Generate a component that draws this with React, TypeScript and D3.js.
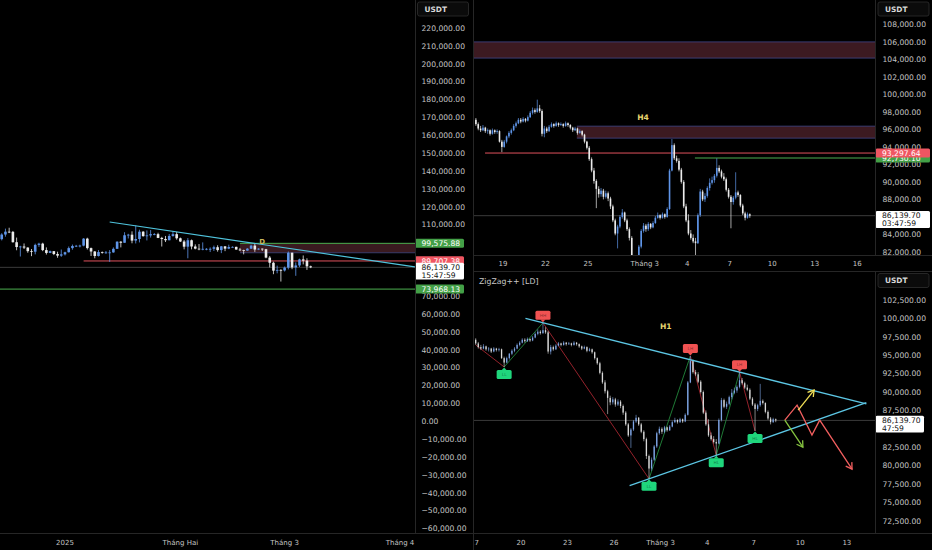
import { useEffect, useRef } from 'react'
import * as d3 from 'd3'

type OHLC = [number, number, number, number]

const W = 932
const H = 550
const DAY = 86400000
const H4 = 4 * 3600000

// Daily BTC/USDT bars [open, high, low, close], first bar 2024-12-14
const dailyFirst = Date.UTC(2024, 11, 14)
const dailyBars: OHLC[] = [
  [101100, 102600, 100600, 101900], [101900, 105200, 101200, 104500], [104500, 107800, 103300, 106100],
  [106100, 108300, 105300, 106000], [106000, 106500, 100000, 100200], [100200, 102800, 95700, 97500],
  [97500, 98200, 92200, 97800], [97800, 99500, 96400, 97200], [97200, 97400, 94300, 95200],
  [95200, 96400, 92400, 94900], [94900, 99400, 93400, 98700], [98700, 99900, 97600, 99400],
  [99400, 99900, 95200, 95800], [95800, 97300, 93300, 94200], [94200, 95500, 94100, 95200],
  [95200, 95200, 93000, 93600], [93600, 94900, 91500, 92700], [92700, 96100, 92000, 93400],
  // January
  [93400, 94900, 92800, 94600], [94600, 97800, 94400, 96900], [96900, 98900, 96000, 98100],
  [98100, 98700, 97500, 98200], [98200, 98800, 97300, 98300], [98300, 102500, 97900, 102200],
  [102200, 102700, 96100, 96900], [96900, 97200, 92500, 95000], [95000, 95300, 91200, 92500],
  [92500, 95800, 92200, 94700], [94700, 95000, 93800, 94500], [94500, 95300, 93700, 94500],
  [94500, 95800, 89200, 94500], [94500, 97300, 94300, 96500], [96500, 100700, 96500, 100500],
  [100500, 100800, 97300, 99900], [99900, 105800, 99900, 104100], [104100, 104900, 102300, 104400],
  [104400, 106300, 99600, 101100], [101100, 109600, 99500, 102000], [102000, 107200, 100100, 106100],
  [106100, 106400, 103300, 103600], [103600, 106800, 101200, 104000], [104000, 107000, 102800, 104700],
  [104700, 105300, 104100, 104700], [104700, 105500, 102500, 102600], [102600, 103200, 97800, 102000],
  [102000, 103700, 100300, 101300], [101300, 104800, 101300, 103700], [103700, 106400, 103300, 104700],
  [104700, 106000, 101600, 102400],
  // February
  [102400, 102800, 100300, 100600], [100600, 101400, 96200, 97700], [97700, 102500, 91200, 101300],
  [101300, 101700, 96200, 97800], [97800, 99000, 96200, 96600], [96600, 99200, 95700, 96500],
  [96500, 100100, 95700, 96500], [96500, 96900, 95700, 96500], [96500, 97300, 94700, 96500],
  [96500, 98300, 95300, 97400], [97400, 98500, 94900, 95800], [95800, 98100, 94100, 97900],
  [97900, 98000, 95200, 96600], [96600, 98800, 96300, 97500], [97500, 97900, 97200, 97600],
  [97600, 97700, 96000, 96100], [96100, 97000, 95200, 95800], [95800, 96000, 93400, 95500],
  [95500, 96900, 95400, 96600], [96600, 98800, 96400, 98300], [98300, 99500, 94800, 96100],
  [96100, 96900, 95800, 96600], [96600, 96700, 95300, 96300], [96300, 96500, 91200, 91600],
  [91600, 92500, 86100, 88700], [88700, 89300, 82300, 84300], [84300, 87100, 82800, 84700],
  [84700, 85100, 78200, 84400],
  // March
  [84400, 86600, 83800, 86000], [86000, 95000, 85000, 94300], [94300, 94400, 85100, 86100],
  [86100, 88900, 81400, 87200], [87200, 91000, 86300, 90600], [90600, 92800, 87800, 89900],
  [89900, 91200, 84700, 86700], [86700, 87100, 85700, 86140],
]

// 4h BTC/USDT bars [open, high, low, close], first bar 2025-02-17 00:00 UTC
const h4First = Date.UTC(2025, 1, 17)
const h4Bars: OHLC[] = [
  [97100, 97300, 96400, 96600], [96600, 96800, 95900, 96100], [96100, 96400, 95700, 95900],
  [95900, 96500, 95800, 96200], [96200, 96300, 95600, 95800], [95800, 96100, 95500, 95900],
  [95900, 96000, 95300, 95500], [95500, 96100, 95400, 95900], [95900, 96000, 95500, 95700],
  [95700, 96000, 95500, 95800], [95800, 95900, 94500, 94600], [94600, 94800, 93400, 94000],
  [94000, 94800, 93900, 94600], [94600, 95300, 94400, 95200], [95200, 95800, 95000, 95600],
  [95600, 96100, 95400, 95900], [95900, 96600, 95800, 96400], [96400, 96900, 96200, 96700],
  [96700, 97300, 96600, 97100], [97100, 97300, 96700, 96900], [96900, 97400, 96800, 97200],
  [97200, 97300, 96800, 97000], [97000, 97600, 96900, 97400], [97400, 98100, 97300, 97900],
  [97900, 98500, 97700, 98200], [98200, 98400, 97800, 98000], [98000, 99400, 97900, 98400],
  [98400, 98800, 97900, 98100], [98100, 98300, 95200, 95500], [95500, 96400, 95100, 96100],
  [96100, 96300, 95600, 95800], [95800, 96500, 95700, 96300], [96300, 96800, 96200, 96600],
  [96600, 96700, 96200, 96400], [96400, 96900, 96300, 96700], [96700, 96800, 96300, 96500],
  [96500, 96800, 96400, 96600], [96600, 96700, 96200, 96400], [96400, 96900, 96300, 96700],
  [96700, 96800, 96300, 96500], [96500, 96600, 96000, 96200], [96200, 96300, 95700, 95900],
  [95900, 96300, 95800, 96100], [96100, 96200, 95400, 95600], [95600, 96000, 95500, 95800],
  [95800, 95900, 95200, 95400], [95400, 95500, 94400, 94600], [94600, 94700, 93700, 93900],
  [93900, 94100, 92400, 92600], [92600, 92800, 91100, 91300], [91300, 91600, 89800, 90100],
  [90100, 90300, 87000, 89200], [89200, 89500, 88200, 88600], [88600, 89300, 88300, 89000],
  [89000, 89200, 88000, 88300], [88300, 89000, 88100, 88700], [88700, 88900, 87800, 88100],
  [88100, 88300, 86900, 87200], [87200, 87400, 85400, 85600], [85600, 85800, 83900, 84100],
  [84100, 85100, 82400, 84900], [84900, 86200, 84700, 86000], [86000, 86900, 85800, 86500],
  [86500, 86600, 85400, 85600], [85600, 85800, 84400, 84600], [84600, 84800, 83300, 83600],
  [83600, 83800, 80900, 81300], [81300, 81500, 78200, 79600], [79600, 81100, 79300, 80800],
  [80800, 82800, 80600, 82600], [82600, 84600, 82400, 84400], [84400, 85300, 84200, 85000],
  [85000, 85200, 84300, 84600], [84600, 85400, 84400, 85200], [85200, 85300, 84600, 84800],
  [84800, 85500, 84700, 85300], [85300, 86100, 85200, 85900], [85900, 86500, 85800, 86200],
  [86200, 86300, 85700, 85900], [85900, 86500, 85800, 86300], [86300, 86400, 85800, 86000],
  [86000, 87100, 85900, 86900], [86900, 91500, 86800, 91300], [91300, 94900, 91200, 94200],
  [94200, 94400, 92500, 92700], [92700, 93000, 92200, 92400], [92400, 92700, 91200, 91400],
  [91400, 91600, 89800, 90000], [90000, 90200, 87000, 87200], [87200, 87500, 85400, 85600],
  [85600, 86300, 83900, 84100], [84100, 84500, 83400, 83600], [83600, 84000, 83000, 83200],
  [83200, 83600, 81400, 83000], [83000, 86400, 82900, 86200], [86200, 89200, 86000, 88900],
  [88900, 89100, 87800, 88000], [88000, 88700, 87700, 88400], [88400, 89500, 88200, 89300],
  [89300, 90400, 89000, 89900], [89900, 90600, 89700, 90200], [90200, 90900, 89900, 90700],
  [90700, 92700, 90500, 91600], [91600, 91900, 91000, 91200], [91200, 91400, 90400, 90600],
  [90600, 91000, 90100, 90300], [90300, 90500, 88900, 89100], [89100, 89300, 88100, 88300],
  [88300, 88500, 84700, 87700], [87700, 88400, 87400, 88200], [88200, 91100, 88000, 88800],
  [88800, 89000, 88300, 88500], [88500, 88600, 87100, 87300], [87300, 87500, 86200, 86400],
  [86400, 86600, 85600, 85900], [85900, 86500, 85800, 86300], [86300, 86400, 85900, 86140],
]

const lastPrice = 86139.7

// price axes [min, max, step]
const leftTickRange = [-60000, 220000, 10000]
const topTickRange = [82000, 108000, 2000]
const bottomTickRange = [72500, 102500, 2500]

const leftTimeLabels: [string, string][] = [
  ['2025-01-01', '2025'], ['2025-02-01', 'Tháng Hai'], ['2025-03-01', 'Tháng 3'], ['2025-04-01', 'Tháng 4'],
]
const topTimeLabels: [string, string][] = [
  ['2025-02-19', '19'], ['2025-02-22', '22'], ['2025-02-25', '25'], ['2025-03-01', 'Tháng 3'],
  ['2025-03-04', '4'], ['2025-03-07', '7'], ['2025-03-10', '10'], ['2025-03-13', '13'], ['2025-03-16', '16'],
]
const bottomTimeLabels: [string, string][] = [
  ['2025-02-17', '17'], ['2025-02-20', '20'], ['2025-02-23', '23'], ['2025-02-26', '26'], ['2025-03-01', 'Tháng 3'],
  ['2025-03-04', '4'], ['2025-03-07', '7'], ['2025-03-10', '10'], ['2025-03-13', '13'],
]

// left (1D) drawings
const leftTrend: [string, number][] = [['2025-01-13', 111500], ['2025-04-05', 86400]]
const leftZone = { from: '2025-02-17', top: 99575.88, bottom: 94300 }
const leftRedLevel = { from: '2025-01-06', price: 89707.38 }
const leftGreenLevel = 73968.13
const leftNote = { at: '2025-02-23', price: 100500, text: 'D' }

// H4 drawings
const h4Zones = [
  { from: '2025-02-16T00:00Z', top: 106000, bottom: 104150 },
  { from: '2025-02-24T05:00Z', top: 96370, bottom: 95000 },
]
const h4RedLevel = { from: '2025-02-17T17:30Z', price: 93297.64 }
const h4GreenLevel = { from: '2025-03-04T13:00Z', price: 92730.1 }
const h4Note = { at: '2025-02-28T21:00Z', price: 97400, text: 'H4' }

// H1 drawings: zigzag pivots [bar index, price, tag]
const zigzag: [number, number, string][] = [
  [0, 96400, ''], [11, 93400, 'LL'], [26, 99400, 'HH'], [67, 78200, 'LL'],
  [83, 94900, 'LH'], [93, 81400, 'HL'], [102, 92700, 'LH'], [108, 84700, 'HL'],
]
const upperTrend = { a: 2, b: 6, from: '2025-02-20T07:00Z' }
const lowerTrend = { a: 3, b: 5, from: '2025-02-27T00:00Z' }
const h1Note = { at: '2025-03-01T08:00Z', price: 98950, text: 'H1' }
const projections: { color: string; pts: [string, number][] }[] = [
  { color: '#f25f5f', pts: [['2025-03-09T00:00Z', 86180], ['2025-03-09T19:00Z', 88220], ['2025-03-10T18:00Z', 84140], ['2025-03-11T06:00Z', 86180], ['2025-03-13T08:00Z', 79520]] },
  { color: '#f3e157', pts: [['2025-03-09T20:40Z', 87540], ['2025-03-10T21:20Z', 90260]] },
  { color: '#86c440', pts: [['2025-03-09T00:00Z', 86180], ['2025-03-10T04:00Z', 82500]] },
]

const UP = '#5f95e8'
const DOWN = '#ececec'
const AXIS_TEXT = '#c4c4c4'
const SEP = '#262626'
const fmt = d3.format(',.2f')

export default function App() {
  const ref = useRef<SVGSVGElement>(null)

  useEffect(() => {
    if (!ref.current) return
    const svg = d3.select(ref.current)
    svg.selectAll('*').remove()
    svg.append('rect').attr('width', W).attr('height', H).attr('fill', '#000')

    const defs = svg.append('defs')
    const clip = (id: string, x: number, y: number, w: number, h: number) => {
      defs.append('clipPath').attr('id', id).append('rect')
        .attr('x', x).attr('y', y).attr('width', w).attr('height', h)
      return `url(#${id})`
    }

    const t = (s: string) => new Date(s)

    // scales
    const xL = d3.scaleUtc().domain([t('2025-01-01T00:00Z'), t('2025-04-01T00:00Z')]).range([65, 400])
    const yL = d3.scaleLinear().domain([0, 220000]).range([421.3, 28.1])
    const xT = d3.scaleUtc().domain([new Date(h4First), new Date(h4First + 20 * DAY)]).range([474.7, 758.1])
    const yT = d3.scaleLinear().domain([82000, 108000]).range([251.9, 24.4])
    const xB = d3.scaleUtc().domain([new Date(h4First), new Date(h4First + 20 * DAY)]).range([474.4, 784.8])
    const yB = d3.scaleLinear().domain([72500, 102500]).range([520.8, 300])

    const candles = (g: any, bars: OHLC[], first: number, step: number, shift: number,
      x: any, y: any, bw: number, ww: number, up: string, dn: string) => {
      const cx = (i: number) => x(new Date(first + i * step + shift))
      const sel = g.append('g').selectAll('g').data(bars).join('g')
      sel.append('line')
        .attr('x1', (_: OHLC, i: number) => cx(i)).attr('x2', (_: OHLC, i: number) => cx(i))
        .attr('y1', (d: OHLC) => y(d[1])).attr('y2', (d: OHLC) => y(d[2]))
        .attr('stroke', (d: OHLC) => d[3] >= d[0] ? up : dn).attr('stroke-width', ww)
      sel.append('rect')
        .attr('x', (_: OHLC, i: number) => cx(i) - bw / 2).attr('width', bw)
        .attr('y', (d: OHLC) => y(Math.max(d[0], d[3])))
        .attr('height', (d: OHLC) => Math.max(0.8, Math.abs(y(d[0]) - y(d[3]))))
        .attr('fill', (d: OHLC) => d[3] >= d[0] ? up : dn)
    }

    const hline = (g: any, x0: number, x1: number, y: number, color: string, w = 1) =>
      g.append('line').attr('x1', x0).attr('x2', x1).attr('y1', y).attr('y2', y)
        .attr('stroke', color).attr('stroke-width', w)

    // tag boxes hide the tick labels they sit on, as on the price scale
    const tagBox = (yc: number, lines: number) => [yc - 4.6, yc - 4.6 + (lines === 1 ? 9 : 16.8)]
    const yTicks = (g: any, range: number[], y: any, tx: number, boxes: number[][]) => {
      d3.range(range[0], range[1] + 1, range[2]).forEach(v => {
        const yy = y(v)
        if (boxes.some(([a, b]) => yy > a - 1.5 && yy < b + 1.5)) return
        g.append('text').attr('x', tx).attr('y', yy).attr('dy', '0.36em')
          .attr('fill', AXIS_TEXT).attr('font-size', 7.6).text(fmt(v))
      })
    }

    const tag = (g: any, x0: number, x1: number, yc: number, lines: string[], fill: string, color: string) => {
      const [top, bottom] = tagBox(yc, lines.length)
      g.append('rect').attr('x', x0).attr('y', top).attr('width', x1 - x0).attr('height', bottom - top)
        .attr('rx', 1.5).attr('fill', fill)
      lines.forEach((s, k) => {
        g.append('text').attr('x', x0 + 6.5).attr('y', yc + k * 8).attr('dy', '0.36em')
          .attr('fill', color).attr('font-size', 7.6).text(s)
      })
    }

    const usdt = (g: any, x: number, y: number) => {
      g.append('rect').attr('x', x).attr('y', y).attr('width', 51).attr('height', 14).attr('rx', 2)
        .attr('fill', '#0b0b0b').attr('stroke', '#2e2e2e').attr('stroke-width', 0.8)
      g.append('text').attr('x', x + 7).attr('y', y + 7).attr('dy', '0.36em').attr('font-size', 7.4)
        .attr('font-weight', 'bold').attr('fill', '#d6d6d6').text('USDT')
    }

    const timeLabels = (g: any, labels: [string, string][], x: any, y: number) => {
      labels.forEach(([d, s]) => {
        g.append('text').attr('x', x(t(d + 'T00:00Z'))).attr('y', y).attr('dy', '0.36em')
          .attr('text-anchor', 'middle').attr('fill', AXIS_TEXT).attr('font-size', 7).text(s)
      })
    }

    const note = (g: any, x: number, y: number, text: string, color: string, size: number) =>
      g.append('text').attr('x', x).attr('y', y).attr('dy', '0.36em').attr('text-anchor', 'middle')
        .attr('font-size', size).attr('font-weight', 'bold').attr('fill', color).text(text)

    // ---------------- left pane (1D) ----------------
    const L = { x0: 0, x1: 415, y0: 0, y1: 533 }
    const gl = svg.append('g').attr('clip-path', clip('cl', L.x0, L.y0, L.x1 - L.x0, L.y1 - L.y0))
    const zx = xL(t(leftZone.from + 'T00:00Z'))
    gl.append('rect').attr('x', zx).attr('width', L.x1 - zx)
      .attr('y', yL(leftZone.top)).attr('height', yL(leftZone.bottom) - yL(leftZone.top))
      .attr('fill', '#3a1a20')
    hline(gl, zx, L.x1, yL(leftZone.bottom), '#3d4680', 0.8)
    hline(gl, zx, L.x1, yL(leftZone.top), '#4caf50', 1)
    hline(gl, L.x0, L.x1, yL(lastPrice), '#3a3a3a', 1)
    hline(gl, xL(t(leftRedLevel.from + 'T00:00Z')), L.x1, yL(leftRedLevel.price), '#e0525c', 1)
    hline(gl, L.x0, L.x1, yL(leftGreenLevel), '#4caf50', 1)
    candles(gl, dailyBars, dailyFirst, DAY, 0, xL, yL, 2.6, 0.8, UP, DOWN)
    gl.append('line')
      .attr('x1', xL(t(leftTrend[0][0] + 'T00:00Z'))).attr('y1', yL(leftTrend[0][1]))
      .attr('x2', xL(t(leftTrend[1][0] + 'T00:00Z'))).attr('y2', yL(leftTrend[1][1]))
      .attr('stroke', '#4fc3dc').attr('stroke-width', 1.2)
    note(gl, xL(t(leftNote.at + 'T00:00Z')), yL(leftNote.price), leftNote.text, '#c9b85e', 7)

    // ---------------- top right pane (H4) ----------------
    const T = { x0: 474, x1: 875, y0: 0, y1: 255 }
    const gt = svg.append('g').attr('clip-path', clip('ct', T.x0, T.y0, T.x1 - T.x0, T.y1 - T.y0))
    h4Zones.forEach(z => {
      const x0 = Math.max(T.x0, xT(t(z.from)))
      gt.append('rect').attr('x', x0).attr('width', T.x1 - x0)
        .attr('y', yT(z.top)).attr('height', yT(z.bottom) - yT(z.top)).attr('fill', '#3c1a21')
      hline(gt, x0, T.x1, yT(z.top), '#40478a', 0.8)
      hline(gt, x0, T.x1, yT(z.bottom), '#40478a', 0.8)
    })
    hline(gt, T.x0, T.x1, yT(lastPrice), '#3a3a3a', 1)
    hline(gt, xT(t(h4RedLevel.from)), T.x1, yT(h4RedLevel.price), '#e0525c', 1)
    hline(gt, xT(t(h4GreenLevel.from)), T.x1, yT(h4GreenLevel.price), '#4caf50', 1)
    candles(gt, h4Bars, h4First, H4, H4 / 2, xT, yT, 1.6, 0.7, UP, DOWN)
    note(gt, xT(t(h4Note.at)), yT(h4Note.price), h4Note.text, '#e6d46e', 7.6)

    // ---------------- bottom right pane (H1 zigzag) ----------------
    const B = { x0: 474, x1: 875, y0: 272, y1: 533 }
    const gb = svg.append('g').attr('clip-path', clip('cb', B.x0, B.y0, B.x1 - B.x0, B.y1 - B.y0))
    hline(gb, B.x0, B.x1, yB(lastPrice), '#3a3a3a', 1)
    const pv = zigzag.map(([i, p, s]) => ({ x: xB(new Date(h4First + i * H4 + H4 / 2)), y: yB(p), p, s }))
    for (let k = 1; k < pv.length; k++) {
      const upLeg = pv[k].p > pv[k - 1].p
      gb.append('line').attr('x1', pv[k - 1].x).attr('y1', pv[k - 1].y).attr('x2', pv[k].x).attr('y2', pv[k].y)
        .attr('stroke', upLeg ? '#22883c' : '#a52630').attr('stroke-width', 0.9)
    }
    candles(gb, h4Bars, h4First, H4, H4 / 2, xB, yB, 1.3, 0.6, '#7fa6e6', '#d9d9d9')

    // converging trend lines through zigzag pivots
    const lineOf = (a: number, b: number) => {
      const m = (pv[b].y - pv[a].y) / (pv[b].x - pv[a].x)
      return (x: number) => pv[a].y + m * (x - pv[a].x)
    }
    const up = lineOf(upperTrend.a, upperTrend.b)
    const lo = lineOf(lowerTrend.a, lowerTrend.b)
    const mU = up(1) - up(0), mL = lo(1) - lo(0)
    const xApex = (lo(0) - up(0)) / (mU - mL) + 2
    ;[[up, upperTrend.from], [lo, lowerTrend.from]].forEach(([f, from]: any) => {
      const x0 = xB(t(from))
      gb.append('line').attr('x1', x0).attr('y1', f(x0)).attr('x2', xApex).attr('y2', f(xApex))
        .attr('stroke', '#5cc6e4').attr('stroke-width', 1.3)
    })

    // zigzag markers
    pv.slice(1).forEach(d => {
      const high = d.s[1] === 'H'
      const fill = high ? '#f05252' : '#1fd67c'
      const by = high ? d.y - 12 : d.y + 3
      gb.append('rect').attr('x', d.x - 7.5).attr('y', by).attr('width', 15).attr('height', 9)
        .attr('rx', 1.5).attr('fill', fill)
      const tipY = high ? d.y - 0.5 : d.y + 0.5
      const baseY = high ? d.y - 3.2 : d.y + 3.2
      gb.append('path').attr('d', `M${d.x - 2.5},${baseY}L${d.x + 2.5},${baseY}L${d.x},${tipY}Z`).attr('fill', fill)
      gb.append('text').attr('x', d.x).attr('y', by + 4.5).attr('dy', '0.36em').attr('text-anchor', 'middle')
        .attr('font-size', 4.4).attr('fill', 'rgba(0,0,0,0.45)').text(d.s)
    })

    // projected paths
    projections.forEach(pr => {
      const pts = pr.pts.map(([d, p]) => [xB(t(d)), yB(p)] as [number, number])
      gb.append('path').attr('d', d3.line()(pts)).attr('fill', 'none')
        .attr('stroke', pr.color).attr('stroke-width', 1.3)
      const [a, b] = pts.slice(-2)
      const ang = Math.atan2(b[1] - a[1], b[0] - a[0])
      const head = [ang + Math.PI - 0.55, ang + Math.PI + 0.55].map(q => [b[0] + 7 * Math.cos(q), b[1] + 7 * Math.sin(q)])
      gb.append('path').attr('d', `M${head[0][0]},${head[0][1]}L${b[0]},${b[1]}L${head[1][0]},${head[1][1]}`)
        .attr('fill', 'none').attr('stroke', pr.color).attr('stroke-width', 1.3)
    })
    note(gb, xB(t(h1Note.at)), yB(h1Note.price), h1Note.text, '#e6d46e', 7.6)
    svg.append('text').attr('x', 479).attr('y', 281).attr('dy', '0.36em').attr('font-size', 7.8)
      .attr('fill', '#c8c8c8').text('ZigZag++ [LD]')

    // ---------------- axes ----------------
    const al = svg.append('g').attr('clip-path', clip('al', 415, 0, 58, 533))
    yTicks(al, leftTickRange, yL, 421.5, [
      tagBox(yL(leftZone.top), 1), tagBox(yL(leftRedLevel.price), 1), tagBox(yL(lastPrice), 2),
    ])
    tag(al, 415, 464, yL(leftZone.top), [fmt(leftZone.top)], '#43a047', '#fff')
    tag(al, 415, 464, yL(leftRedLevel.price), [fmt(leftRedLevel.price)], '#ef5662', '#fff')
    tag(al, 415, 464, yL(lastPrice), [fmt(lastPrice), '15:47:59'], '#fff', '#111')
    tag(al, 415, 464, yL(leftGreenLevel), [fmt(leftGreenLevel)], '#43a047', '#fff')
    usdt(al, 417.5, 2)

    const at = svg.append('g').attr('clip-path', clip('at', 875, 0, 57, 255))
    yTicks(at, topTickRange, yT, 882.5, [tagBox(yT(lastPrice), 2)])
    tag(at, 875.5, 930, yT(h4GreenLevel.price), [fmt(h4GreenLevel.price)], '#43a047', '#fff')
    tag(at, 875.5, 930, yT(h4RedLevel.price), [fmt(h4RedLevel.price)], '#ef5662', '#fff')
    tag(at, 875.5, 930, yT(lastPrice), [fmt(lastPrice), '03:47:59'], '#fff', '#111')
    usdt(at, 878, 2)

    const ab = svg.append('g').attr('clip-path', clip('ab', 875, 272, 57, 261))
    yTicks(ab, bottomTickRange, yB, 882.5, [tagBox(yB(lastPrice), 2)])
    tag(ab, 875.5, 924, yB(lastPrice), [fmt(lastPrice), '47:59'], '#fff', '#111')
    usdt(ab, 878, 273.5)

    const tl = svg.append('g').attr('clip-path', clip('tl', 0, 533, 415, 17))
    timeLabels(tl, leftTimeLabels, xL, 542)
    const tt = svg.append('g').attr('clip-path', clip('tt', 474, 255, 401, 16))
    timeLabels(tt, topTimeLabels, xT, 263)
    const tb = svg.append('g').attr('clip-path', clip('tb', 474, 533, 401, 17))
    timeLabels(tb, bottomTimeLabels, xB, 542)

    // ---------------- separators ----------------
    const sep = svg.append('g').attr('stroke', SEP).attr('stroke-width', 1)
    sep.append('line').attr('x1', 415.5).attr('x2', 415.5).attr('y1', 0).attr('y2', 533)
    sep.append('line').attr('x1', 473.5).attr('x2', 473.5).attr('y1', 0).attr('y2', H)
    sep.append('line').attr('x1', 875.5).attr('x2', 875.5).attr('y1', 0).attr('y2', 255)
    sep.append('line').attr('x1', 875.5).attr('x2', 875.5).attr('y1', 272).attr('y2', 533)
    sep.append('line').attr('x1', 0).attr('x2', W).attr('y1', 533.5).attr('y2', 533.5)
    sep.append('line').attr('x1', 474).attr('x2', W).attr('y1', 255.5).attr('y2', 255.5)
    sep.append('line').attr('x1', 474).attr('x2', W).attr('y1', 271.5).attr('y2', 271.5)
  }, [])

  return (
    <svg
      ref={ref}
      width={W}
      height={H}
      style={{ position: 'fixed', left: 0, top: 0, display: 'block', background: '#000' }}
      fontFamily="'DejaVu Sans', sans-serif"
    />
  )
}
